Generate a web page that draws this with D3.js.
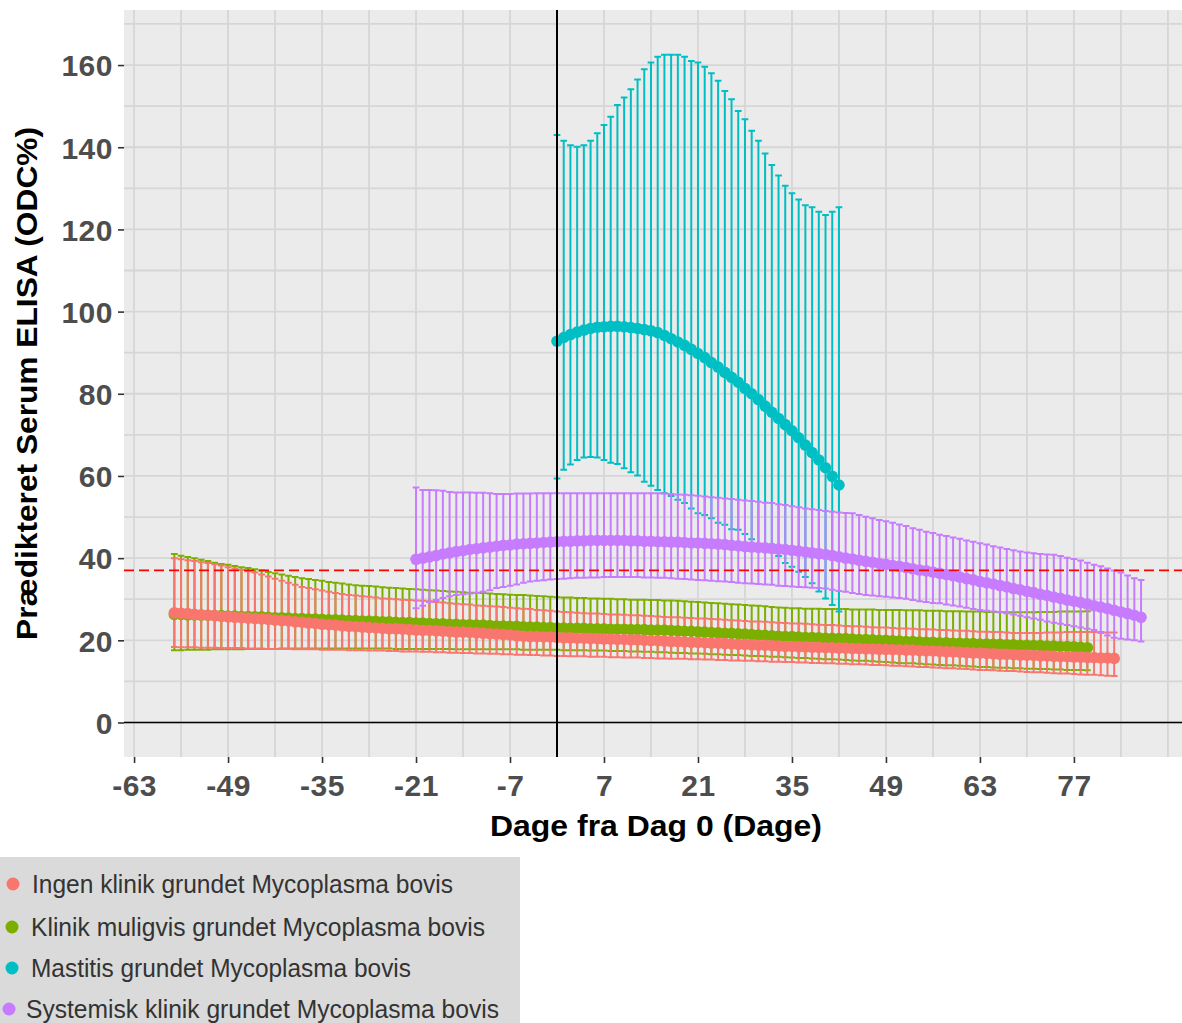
<!DOCTYPE html>
<html>
<head>
<meta charset="utf-8">
<script src="https://cdn.jsdelivr.net/npm/d3@7"></script>
<style>
  html, body { margin: 0; padding: 0; background: #ffffff; }
  svg { display: block; }
</style>
</head>
<body>
<svg id="chart" width="1182" height="1023"></svg>
<script>
// ---- Series labels and colours ----
const seriesNames = [
  "Ingen klinik grundet Mycoplasma bovis",
  "Klinik muligvis grundet Mycoplasma bovis",
  "Mastitis grundet Mycoplasma bovis",
  "Systemisk klinik grundet Mycoplasma bovis"
];
const seriesColors = ["#F8766D", "#7CAE00", "#00BFC4", "#C77CFF"];

// ---- First day of each series (one value per day afterwards) ----
const startDays = [-57, -57, 0, -21];

// ---- Ingen klinik: predicted mean, lower and upper limits ----
const ingenMean = [
  26.7, 26.6, 26.5, 26.3, 26.2, 26.1, 26.0, 25.8, 25.7, 25.6,
  25.5, 25.4, 25.3, 25.2, 25.1, 24.9, 24.8, 24.7, 24.5, 24.4,
  24.2, 24.1, 23.9, 23.8, 23.7, 23.5, 23.4, 23.3, 23.2, 23.1,
  23.0, 22.9, 22.8, 22.8, 22.7, 22.6, 22.5, 22.4, 22.4, 22.3,
  22.2, 22.1, 22.0, 22.0, 21.9, 21.8, 21.7, 21.6, 21.5, 21.4,
  21.3, 21.1, 21.0, 20.9, 20.9, 20.8, 20.8, 20.7, 20.6, 20.6,
  20.5, 20.5, 20.4, 20.4, 20.3, 20.3, 20.2, 20.2, 20.1, 20.1,
  20.0, 19.9, 19.9, 19.8, 19.7, 19.7, 19.6, 19.5, 19.5, 19.4,
  19.3, 19.3, 19.2, 19.1, 19.0, 19.0, 18.9, 18.8, 18.8, 18.7,
  18.6, 18.5, 18.5, 18.4, 18.4, 18.3, 18.3, 18.2, 18.2, 18.1,
  18.1, 18.0, 18.0, 17.9, 17.9, 17.8, 17.8, 17.7, 17.7, 17.6,
  17.6, 17.5, 17.4, 17.4, 17.3, 17.2, 17.2, 17.1, 17.0, 16.9,
  16.9, 16.8, 16.7, 16.6, 16.6, 16.5, 16.4, 16.4, 16.3, 16.2,
  16.2, 16.1, 16.0, 16.0, 15.9, 15.9, 15.8, 15.8, 15.7, 15.7, 15.6
];
const ingenLow = [
  18.4, 18.3, 18.3, 18.3, 18.2, 18.2, 18.2, 18.1, 18.1, 18.1,
  18.1, 18.0, 18.0, 18.0, 17.9, 17.9, 17.9, 17.9, 17.8, 17.8,
  17.8, 17.8, 17.7, 17.7, 17.7, 17.7, 17.6, 17.6, 17.6, 17.5,
  17.5, 17.5, 17.4, 17.4, 17.3, 17.3, 17.3, 17.2, 17.2, 17.1,
  17.1, 17.0, 17.0, 16.9, 16.9, 16.8, 16.8, 16.7, 16.7, 16.6,
  16.6, 16.5, 16.5, 16.4, 16.4, 16.3, 16.3, 16.2, 16.2, 16.1,
  16.1, 16.1, 16.0, 16.0, 16.0, 15.9, 15.9, 15.8, 15.8, 15.8,
  15.7, 15.7, 15.6, 15.6, 15.5, 15.5, 15.5, 15.4, 15.4, 15.3,
  15.3, 15.2, 15.2, 15.1, 15.1, 15.0, 15.0, 14.9, 14.9, 14.8,
  14.8, 14.7, 14.7, 14.6, 14.6, 14.5, 14.5, 14.4, 14.4, 14.3,
  14.3, 14.2, 14.2, 14.1, 14.0, 14.0, 13.9, 13.8, 13.8, 13.7,
  13.6, 13.5, 13.5, 13.4, 13.3, 13.2, 13.2, 13.1, 13.0, 12.9,
  12.8, 12.8, 12.7, 12.6, 12.5, 12.5, 12.4, 12.3, 12.2, 12.2,
  12.1, 12.0, 11.9, 11.9, 11.8, 11.7, 11.6, 11.6, 11.5, 11.4, 11.3
];
const ingenHigh = [
  40.0, 39.7, 39.5, 39.3, 39.0, 38.8, 38.5, 38.2, 37.8, 37.5,
  37.2, 36.8, 36.5, 36.0, 35.5, 35.0, 34.5, 34.0, 33.5, 33.0,
  32.7, 32.4, 32.1, 31.8, 31.5, 31.3, 31.0, 30.9, 30.7, 30.6,
  30.4, 30.2, 30.1, 30.0, 29.9, 29.8, 29.7, 29.6, 29.5, 29.3,
  29.2, 29.0, 28.9, 28.8, 28.7, 28.5, 28.4, 28.3, 28.2, 28.1,
  27.9, 27.8, 27.7, 27.6, 27.4, 27.3, 27.2, 27.0, 26.9, 26.8,
  26.7, 26.6, 26.5, 26.5, 26.4, 26.3, 26.3, 26.2, 26.1, 26.1,
  26.0, 25.9, 25.8, 25.7, 25.6, 25.6, 25.5, 25.4, 25.3, 25.3,
  25.2, 25.1, 25.0, 24.9, 24.8, 24.7, 24.6, 24.6, 24.5, 24.4,
  24.3, 24.2, 24.1, 24.1, 24.0, 23.9, 23.8, 23.7, 23.7, 23.6,
  23.5, 23.4, 23.4, 23.3, 23.2, 23.1, 23.1, 23.0, 22.9, 22.9,
  22.8, 22.7, 22.7, 22.6, 22.5, 22.5, 22.4, 22.3, 22.3, 22.2,
  22.1, 22.1, 22.0, 22.0, 21.9, 21.8, 21.8, 21.8, 21.8, 21.8,
  21.9, 21.9, 21.9, 22.0, 22.0, 22.0, 22.0, 22.0, 22.0, 21.9, 21.9
];

// ---- Klinik muligvis ----
const muligMean = [
  26.3, 26.3, 26.2, 26.2, 26.1, 26.1, 26.0, 26.0, 25.9, 25.9,
  25.8, 25.8, 25.7, 25.7, 25.6, 25.5, 25.5, 25.4, 25.3, 25.3,
  25.2, 25.2, 25.1, 25.0, 25.0, 24.9, 24.8, 24.8, 24.7, 24.7,
  24.6, 24.5, 24.5, 24.4, 24.3, 24.3, 24.2, 24.2, 24.1, 24.0,
  24.0, 23.9, 23.9, 23.8, 23.8, 23.7, 23.7, 23.6, 23.5, 23.5,
  23.4, 23.4, 23.3, 23.2, 23.2, 23.1, 23.1, 23.0, 23.0, 22.9,
  22.9, 22.9, 22.8, 22.8, 22.8, 22.7, 22.7, 22.7, 22.6, 22.6,
  22.6, 22.5, 22.5, 22.5, 22.4, 22.3, 22.2, 22.2, 22.1, 22.0,
  21.9, 21.8, 21.7, 21.7, 21.6, 21.5, 21.4, 21.3, 21.2, 21.1,
  21.0, 20.9, 20.9, 20.8, 20.7, 20.7, 20.6, 20.5, 20.5, 20.4,
  20.4, 20.3, 20.2, 20.2, 20.1, 20.0, 20.0, 19.9, 19.8, 19.7,
  19.7, 19.6, 19.5, 19.5, 19.4, 19.4, 19.3, 19.3, 19.2, 19.2,
  19.1, 19.1, 19.0, 19.0, 18.9, 18.9, 18.8, 18.8, 18.7, 18.7,
  18.6, 18.6, 18.5, 18.5, 18.4, 18.3, 18.2
];
const muligLow = [
  17.6, 17.6, 17.7, 17.7, 17.7, 17.7, 17.8, 17.8, 17.8, 17.8,
  17.8, 17.9, 17.9, 17.9, 17.9, 17.9, 18.0, 18.0, 18.0, 18.0,
  18.0, 18.0, 18.0, 18.0, 18.0, 18.0, 18.0, 18.0, 18.0, 18.0,
  18.0, 18.0, 18.0, 17.9, 17.9, 17.9, 17.9, 17.9, 17.9, 17.9,
  17.9, 17.9, 17.8, 17.8, 17.8, 17.8, 17.8, 17.8, 17.8, 17.8,
  17.8, 17.8, 17.7, 17.7, 17.7, 17.7, 17.7, 17.7, 17.6, 17.6,
  17.6, 17.6, 17.5, 17.5, 17.5, 17.4, 17.4, 17.4, 17.3, 17.3,
  17.2, 17.2, 17.1, 17.1, 17.0, 16.9, 16.9, 16.8, 16.8, 16.7,
  16.6, 16.6, 16.5, 16.4, 16.4, 16.3, 16.2, 16.2, 16.1, 16.0,
  16.0, 15.9, 15.8, 15.7, 15.7, 15.6, 15.5, 15.4, 15.4, 15.3,
  15.2, 15.1, 15.0, 15.0, 14.9, 14.8, 14.7, 14.6, 14.5, 14.4,
  14.4, 14.3, 14.2, 14.1, 14.0, 13.9, 13.9, 13.8, 13.7, 13.6,
  13.5, 13.5, 13.4, 13.3, 13.3, 13.2, 13.2, 13.1, 13.1, 13.0,
  13.0, 12.9, 12.9, 12.8, 12.8, 12.8, 12.7
];
const muligHigh = [
  41.0, 40.6, 40.3, 40.0, 39.6, 39.3, 38.9, 38.6, 38.4, 38.1,
  37.8, 37.6, 37.3, 37.0, 36.6, 36.3, 36.0, 35.7, 35.4, 35.1,
  34.9, 34.7, 34.5, 34.2, 34.0, 33.8, 33.6, 33.4, 33.3, 33.2,
  33.1, 32.9, 32.8, 32.7, 32.6, 32.5, 32.4, 32.3, 32.2, 32.1,
  32.0, 31.9, 31.8, 31.7, 31.6, 31.6, 31.5, 31.4, 31.3, 31.2,
  31.1, 31.0, 31.0, 30.9, 30.8, 30.7, 30.6, 30.5, 30.4, 30.4,
  30.3, 30.3, 30.2, 30.2, 30.1, 30.1, 30.0, 30.0, 29.9, 29.9,
  29.9, 29.8, 29.8, 29.7, 29.7, 29.6, 29.5, 29.4, 29.3, 29.2,
  29.1, 29.0, 28.9, 28.8, 28.7, 28.6, 28.5, 28.4, 28.3, 28.1,
  28.0, 27.9, 27.8, 27.8, 27.7, 27.7, 27.7, 27.6, 27.6, 27.6,
  27.6, 27.5, 27.5, 27.5, 27.5, 27.4, 27.4, 27.4, 27.4, 27.3,
  27.3, 27.3, 27.2, 27.2, 27.2, 27.1, 27.1, 27.1, 27.0, 27.0,
  27.0, 26.9, 26.9, 26.9, 26.8, 26.8, 26.8, 26.8, 26.8, 26.9,
  26.9, 26.9, 27.0, 27.0, 27.0, 27.0, 27.1
];

// ---- Mastitis ----
const mastitisMean = [
  92.8, 93.7, 94.4, 95.0, 95.5, 95.9, 96.2, 96.3, 96.4, 96.4,
  96.3, 96.1, 95.9, 95.6, 95.3, 94.9, 94.2, 93.4, 92.6, 91.8,
  90.8, 89.8, 88.8, 87.6, 86.5, 85.2, 84.0, 82.8, 81.3, 80.0,
  78.6, 77.0, 75.5, 74.0, 72.5, 71.0, 69.3, 67.5, 65.7, 63.9,
  62.0, 59.9, 57.8
];
const mastitisLow = [
  59.4, 61.5, 62.8, 63.9, 64.5, 64.6, 64.5, 63.9, 63.2, 62.9,
  61.9, 60.9, 60.1, 58.6, 57.6, 56.6, 55.8, 55.1, 54.2, 53.4,
  52.1, 50.9, 50.5, 49.7, 48.6, 48.1, 47.0, 46.9, 45.9, 44.6,
  43.2, 42.4, 41.4, 40.5, 38.8, 37.9, 36.7, 35.4, 33.9, 31.9,
  30.2, 28.6, 27.0
];
const mastitisHigh = [
  143.0, 141.6, 140.5, 140.1, 140.5, 141.6, 143.4, 145.4, 147.4, 150.3,
  152.1, 154.1, 156.5, 159.0, 160.6, 162.0, 162.5, 162.5, 162.5, 162.0,
  161.0, 160.6, 159.6, 158.0, 156.2, 153.7, 151.7, 148.8, 146.8, 144.0,
  141.6, 138.5, 135.7, 133.1, 130.6, 128.8, 127.3, 125.9, 125.4, 124.3,
  123.5, 124.3, 125.4
];

// ---- Systemisk klinik ----
const systemMean = [
  39.7, 40.0, 40.3, 40.6, 41.0, 41.3, 41.6, 41.8, 42.1, 42.3,
  42.5, 42.7, 42.9, 43.1, 43.2, 43.4, 43.5, 43.6, 43.7, 43.8,
  43.9, 44.0, 44.1, 44.1, 44.2, 44.2, 44.3, 44.3, 44.3, 44.3,
  44.3, 44.3, 44.2, 44.2, 44.1, 44.1, 44.0, 44.0, 43.9, 43.9,
  43.8, 43.7, 43.7, 43.6, 43.5, 43.4, 43.3, 43.1, 43.0, 42.8,
  42.7, 42.6, 42.5, 42.4, 42.2, 42.1, 41.9, 41.7, 41.5, 41.3,
  41.1, 40.9, 40.6, 40.3, 40.0, 39.8, 39.5, 39.2, 39.0, 38.7,
  38.5, 38.2, 38.0, 37.7, 37.4, 37.1, 36.9, 36.6, 36.3, 36.0,
  35.7, 35.4, 35.0, 34.7, 34.3, 34.0, 33.7, 33.3, 33.0, 32.6,
  32.3, 31.9, 31.6, 31.2, 30.9, 30.5, 30.2, 29.8, 29.5, 29.2,
  28.8, 28.4, 28.1, 27.7, 27.3, 26.9, 26.5, 26.1, 25.6
];
const systemLow = [
  27.8, 28.4, 29.3, 29.8, 30.3, 30.7, 31.0, 31.2, 31.4, 31.5,
  31.8, 32.2, 32.7, 33.0, 33.3, 33.6, 34.0, 34.3, 34.5, 34.6,
  34.8, 34.9, 35.0, 35.1, 35.2, 35.2, 35.3, 35.3, 35.4, 35.4,
  35.4, 35.4, 35.4, 35.4, 35.3, 35.3, 35.2, 35.2, 35.1, 35.0,
  34.9, 34.8, 34.7, 34.6, 34.5, 34.4, 34.3, 34.2, 34.0, 33.9,
  33.8, 33.7, 33.6, 33.5, 33.3, 33.2, 33.1, 33.0, 32.9, 32.8,
  32.7, 32.6, 32.3, 32.0, 31.8, 31.5, 31.3, 31.0, 30.9, 30.7,
  30.6, 30.4, 30.3, 30.1, 29.8, 29.5, 29.3, 29.1, 29.0, 28.7,
  28.5, 28.2, 27.9, 27.6, 27.4, 27.2, 27.0, 26.8, 26.6, 26.3,
  26.0, 25.6, 25.3, 25.0, 24.6, 24.3, 24.0, 23.7, 23.4, 23.1,
  22.8, 22.5, 21.8, 21.2, 20.6, 20.4, 20.2, 20.0, 19.7
];
const systemHigh = [
  57.2, 56.6, 56.6, 56.5, 56.4, 56.1, 56.0, 56.0, 56.0, 55.9,
  55.9, 55.8, 55.6, 55.6, 55.6, 55.7, 55.7, 55.7, 55.8, 55.8,
  55.8, 55.8, 55.8, 55.8, 55.8, 55.8, 55.8, 55.8, 55.8, 55.8,
  55.8, 55.8, 55.8, 55.8, 55.8, 55.8, 55.8, 55.7, 55.6, 55.5,
  55.4, 55.3, 55.2, 55.0, 54.8, 54.7, 54.5, 54.4, 54.2, 54.0,
  53.9, 53.7, 53.5, 53.4, 53.1, 52.9, 52.6, 52.4, 52.1, 51.9,
  51.7, 51.5, 51.3, 51.1, 51.0, 50.9, 50.5, 50.1, 49.7, 49.3,
  49.0, 48.6, 48.2, 47.8, 47.3, 46.9, 46.4, 46.1, 45.7, 45.4,
  45.0, 44.7, 44.3, 44.0, 43.6, 43.3, 42.9, 42.6, 42.2, 41.9,
  41.6, 41.4, 41.2, 41.0, 40.9, 40.8, 40.5, 40.1, 39.8, 39.4,
  38.9, 38.4, 38.0, 37.5, 37.0, 36.5, 35.8, 35.1, 34.7
];

// ---- Reference lines and axis ticks ----
const cutoffValue = 37;
const xTickValues = [-63, -49, -35, -21, -7, 7, 21, 35, 49, 63, 77];
const xTickLabels = ["-63", "-49", "-35", "-21", "-7", "7", "21", "35", "49", "63", "77"];
const yTickValues = [0, 20, 40, 60, 80, 100, 120, 140, 160];
const yTickLabels = ["0", "20", "40", "60", "80", "100", "120", "140", "160"];
const xGridValues = [-63, -56, -49, -42, -35, -28, -21, -14, -7, 0, 7, 14, 21, 28, 35, 42, 49, 56, 63, 70, 77, 84, 91];
const yGridValues = [0, 10, 20, 30, 40, 50, 60, 70, 80, 90, 100, 110, 120, 130, 140, 150, 160, 170];
const xTitle = "Dage fra Dag 0 (Dage)";
const yTitle = "Prædikteret Serum ELISA (ODC%)";

// ---- Assemble series records ----
const meanSets = [ingenMean, muligMean, mastitisMean, systemMean];
const lowSets = [ingenLow, muligLow, mastitisLow, systemLow];
const highSets = [ingenHigh, muligHigh, mastitisHigh, systemHigh];
const series = seriesNames.map((name, i) => ({
  name,
  color: seriesColors[i],
  rows: meanSets[i].map((m, j) => ({
    day: startDays[i] + j,
    mean: m,
    low: lowSets[i][j],
    high: highSets[i][j]
  }))
}));

// ---- Layout ----
const panel = { left: 124, right: 1182, top: 10, bottom: 757 };
const svg = d3.select("#chart");
const x = d3.scaleLinear().domain([-64.5, 93.1]).range([panel.left, panel.right]);
const y = d3.scaleLinear().domain([-8.4, 173.4]).range([panel.bottom, panel.top]);
const fontFamily = "'Liberation Sans', Arial, sans-serif";

svg.append("defs").append("clipPath").attr("id", "panelClip")
  .append("rect")
  .attr("x", panel.left).attr("y", panel.top)
  .attr("width", panel.right - panel.left).attr("height", panel.bottom - panel.top);

// panel background
svg.append("rect")
  .attr("x", panel.left).attr("y", panel.top)
  .attr("width", panel.right - panel.left).attr("height", panel.bottom - panel.top)
  .attr("fill", "#EBEBEB");

// grid
const grid = svg.append("g").attr("clip-path", "url(#panelClip)");
grid.selectAll("line.vg").data(xGridValues).join("line")
  .attr("class", "vg")
  .attr("x1", d => x(d)).attr("x2", d => x(d))
  .attr("y1", panel.top).attr("y2", panel.bottom)
  .attr("stroke", "#D6D6D6").attr("stroke-width", 1.8);
grid.selectAll("line.hg").data(yGridValues).join("line")
  .attr("class", "hg")
  .attr("x1", panel.left).attr("x2", panel.right)
  .attr("y1", d => y(d)).attr("y2", d => y(d))
  .attr("stroke", "#D6D6D6").attr("stroke-width", 1.8);

// error bars: Klinik muligvis first, Ingen klinik drawn over it
const plot = svg.append("g").attr("clip-path", "url(#panelClip)");
const capHalf = (x(0.5) - x(0));
const barOrder = [1, 0, 2, 3];
barOrder.forEach(i => {
  const s = series[i];
  plot.append("g").selectAll("path").data(s.rows).join("path")
    .attr("d", r => {
      const cx = x(r.day), yh = y(r.high), yl = y(r.low);
      return `M${cx - capHalf},${yh}H${cx + capHalf}M${cx},${yh}V${yl}M${cx - capHalf},${yl}H${cx + capHalf}`;
    })
    .attr("fill", "none")
    .attr("stroke", s.color)
    .attr("stroke-width", 2.0);
});

// points (Klinik muligvis underneath Ingen klinik)
const pointOrder = [1, 0, 2, 3];
pointOrder.forEach(i => {
  const s = series[i];
  plot.append("g").selectAll("circle").data(s.rows).join("circle")
    .attr("cx", r => x(r.day))
    .attr("cy", r => y(r.mean))
    .attr("r", 5.8)
    .attr("fill", s.color);
});

// cutoff line
plot.append("line")
  .attr("x1", panel.left).attr("x2", panel.right)
  .attr("y1", y(cutoffValue)).attr("y2", y(cutoffValue))
  .attr("stroke", "#FF0000").attr("stroke-width", 1.7)
  .attr("stroke-dasharray", "10,5");

// zero lines
plot.append("line")
  .attr("x1", panel.left).attr("x2", panel.right)
  .attr("y1", y(0)).attr("y2", y(0))
  .attr("stroke", "#000").attr("stroke-width", 1.6);
plot.append("line")
  .attr("x1", x(0)).attr("x2", x(0))
  .attr("y1", panel.top).attr("y2", panel.bottom)
  .attr("stroke", "#000").attr("stroke-width", 2);

// axes
const xAxis = d3.axisBottom(x)
  .tickValues(xTickValues)
  .tickFormat((d, i) => xTickLabels[i])
  .tickSize(6).tickPadding(6);
const gx = svg.append("g").attr("transform", `translate(0,${panel.bottom})`).call(xAxis);
gx.select(".domain").remove();
gx.selectAll(".tick line").attr("stroke", "#333333").attr("stroke-width", 1.6);
gx.selectAll(".tick text")
  .attr("font-family", fontFamily)
  .attr("font-weight", "bold").attr("font-size", 30)
  .attr("letter-spacing", 0.5)
  .attr("fill", "#4D4D4D").attr("dy", "0.9em");

const yAxis = d3.axisLeft(y)
  .tickValues(yTickValues)
  .tickFormat((d, i) => yTickLabels[i])
  .tickSize(6).tickPadding(5);
const gy = svg.append("g").attr("transform", `translate(${panel.left},0)`).call(yAxis);
gy.select(".domain").remove();
gy.selectAll(".tick line").attr("stroke", "#333333").attr("stroke-width", 1.6);
gy.selectAll(".tick text")
  .attr("font-family", fontFamily)
  .attr("font-weight", "bold").attr("font-size", 30)
  .attr("letter-spacing", 0.5)
  .attr("fill", "#4D4D4D").attr("dy", "0.36em");

// axis titles
svg.append("text")
  .attr("x", 656).attr("y", 836)
  .attr("text-anchor", "middle")
  .attr("font-family", fontFamily)
  .attr("font-weight", "bold").attr("font-size", 29)
  .attr("textLength", 332).attr("lengthAdjust", "spacingAndGlyphs")
  .attr("fill", "#000")
  .text(xTitle);
svg.append("text")
  .attr("transform", `translate(37,${(127 + 640) / 2}) rotate(-90)`)
  .attr("text-anchor", "middle")
  .attr("font-family", fontFamily)
  .attr("font-weight", "bold").attr("font-size", 29)
  .attr("textLength", 513).attr("lengthAdjust", "spacingAndGlyphs")
  .attr("fill", "#000")
  .text(yTitle);

// legend
const legendRows = [
  { y: 884, dotX: 13, textX: 32, textW: 421 },
  { y: 927, dotX: 12, textX: 31, textW: 454 },
  { y: 968, dotX: 12, textX: 31, textW: 380 },
  { y: 1009, dotX: 9, textX: 26, textW: 473 }
];
const legend = svg.append("g");
legend.append("rect")
  .attr("x", 0).attr("y", 857).attr("width", 520).attr("height", 170)
  .attr("fill", "#DADADA");
legendRows.forEach((r, i) => {
  legend.append("circle")
    .attr("cx", r.dotX).attr("cy", r.y).attr("r", 6.5)
    .attr("fill", seriesColors[i]);
  legend.append("text")
    .attr("x", r.textX).attr("y", r.y).attr("dy", "0.36em")
    .attr("font-family", fontFamily)
    .attr("font-size", 25)
    .attr("textLength", r.textW).attr("lengthAdjust", "spacingAndGlyphs")
    .attr("fill", "#333333")
    .text(seriesNames[i]);
});
</script>
</body>
</html>
